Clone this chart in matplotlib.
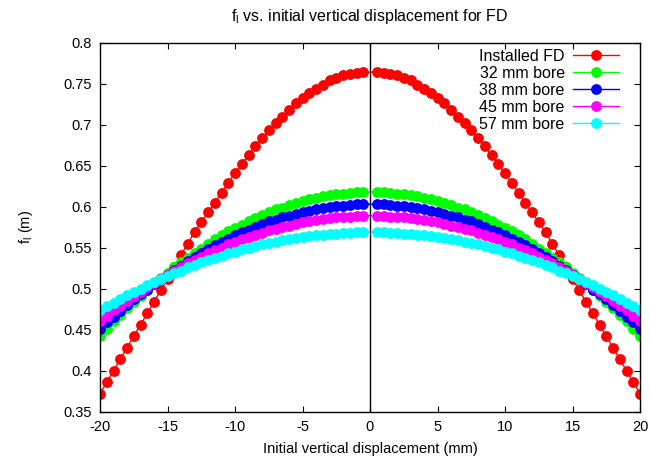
import matplotlib
matplotlib.use("Agg")
import matplotlib.pyplot as plt
import numpy as np

plt.rcParams['font.family'] = ['Liberation Sans', 'DejaVu Sans']

# displacement (mm), right half; curves are symmetric about 0
x_half = [0.5, 1.0, 1.5, 2.0, 2.5, 3.0, 3.5, 4.0, 4.5, 5.0,
          5.5, 6.0, 6.5, 7.0, 7.5, 8.0, 8.5, 9.0, 9.5, 10.0,
          10.5, 11.0, 11.5, 12.0, 12.5, 13.0, 13.5, 14.0, 14.5, 15.0,
          15.5, 16.0, 16.5, 17.0, 17.5, 18.0, 18.5, 19.0, 19.5, 20.0]

installed_fd = [0.764, 0.763, 0.762, 0.760, 0.757, 0.754, 0.749, 0.744, 0.739, 0.733,
                0.726, 0.718, 0.710, 0.702, 0.693, 0.684, 0.674, 0.663, 0.652, 0.641,
                0.629, 0.617, 0.605, 0.593, 0.581, 0.569, 0.555, 0.541, 0.527, 0.512,
                0.498, 0.484, 0.470, 0.456, 0.442, 0.428, 0.414, 0.400, 0.386, 0.372]
bore_32 = [0.618, 0.618, 0.617, 0.616, 0.615, 0.614, 0.613, 0.611, 0.609, 0.607,
           0.605, 0.602, 0.599, 0.597, 0.593, 0.590, 0.586, 0.582, 0.578, 0.574,
           0.570, 0.565, 0.560, 0.555, 0.549, 0.544, 0.538, 0.532, 0.526, 0.519,
           0.513, 0.506, 0.499, 0.491, 0.484, 0.476, 0.468, 0.460, 0.451, 0.442]
bore_38 = [0.603, 0.603, 0.602, 0.601, 0.601, 0.600, 0.598, 0.597, 0.595, 0.594,
           0.591, 0.589, 0.587, 0.584, 0.582, 0.579, 0.575, 0.572, 0.569, 0.565,
           0.561, 0.557, 0.553, 0.548, 0.544, 0.539, 0.534, 0.528, 0.523, 0.517,
           0.512, 0.506, 0.499, 0.493, 0.487, 0.480, 0.473, 0.466, 0.459, 0.451]
bore_45 = [0.589, 0.589, 0.588, 0.588, 0.587, 0.586, 0.585, 0.584, 0.582, 0.581,
           0.579, 0.577, 0.575, 0.573, 0.571, 0.568, 0.566, 0.563, 0.560, 0.557,
           0.554, 0.550, 0.547, 0.543, 0.539, 0.535, 0.531, 0.526, 0.522, 0.517,
           0.512, 0.507, 0.502, 0.496, 0.491, 0.485, 0.479, 0.474, 0.467, 0.461]
bore_57 = [0.569, 0.569, 0.568, 0.568, 0.567, 0.567, 0.566, 0.565, 0.564, 0.563,
           0.562, 0.560, 0.559, 0.557, 0.556, 0.554, 0.552, 0.550, 0.548, 0.545,
           0.543, 0.540, 0.538, 0.535, 0.532, 0.529, 0.526, 0.522, 0.519, 0.516,
           0.512, 0.508, 0.504, 0.500, 0.496, 0.492, 0.488, 0.483, 0.479, 0.474]

labels = ["Installed FD", "32 mm bore", "38 mm bore", "45 mm bore", "57 mm bore"]
colors = ["#ff0000", "#00ff00", "#0000ff", "#ff00ff", "#00ffff"]
series = [installed_fd, bore_32, bore_38, bore_45, bore_57]

x_ticks = [-20, -15, -10, -5, 0, 5, 10, 15, 20]
y_ticks = [0.35, 0.4, 0.45, 0.5, 0.55, 0.6, 0.65, 0.7, 0.75, 0.8]
y_ticklabels = ["0.35", "0.4", "0.45", "0.5", "0.55", "0.6", "0.65", "0.7", "0.75", "0.8"]

fig = plt.figure(figsize=(6.5, 4.65), dpi=100)
ax = fig.add_axes([100/650, 53.3/465, 540/650, 369/465])

xh = np.array(x_half)
x_full = np.concatenate([-xh[::-1], xh])
for vals, lab, col in zip(series, labels, colors):
    v = np.array(vals)
    y_full = np.concatenate([v[::-1], v])
    ax.plot(x_full, y_full, '-', color=col, lw=1, marker='o', markersize=7.8,
            markeredgewidth=0, label=lab)

ax.axvline(0, color='black', lw=1, zorder=5)

ax.set_xlim(-20, 20)
ax.set_ylim(0.35, 0.8)
ax.set_xticks(x_ticks)
ax.set_xticklabels([str(t) for t in x_ticks])
ax.set_yticks(y_ticks)
ax.set_yticklabels(y_ticklabels)
ax.tick_params(direction='in', length=4.5, width=0.8, top=True, right=True,
               labelsize=10.5, colors='black', pad=6)
for s in ax.spines.values():
    s.set_linewidth(1.0)

ax.set_xlabel("Initial vertical displacement (mm)", fontsize=10.5, labelpad=6)
ax.set_ylabel(r"f$_\mathregular{l}$ (m)", fontsize=10.5, labelpad=20)
fig.text(370/650, 1 - 17/465, r"f$_\mathregular{l}$ vs. initial vertical displacement for FD",
         ha='center', va='center', fontsize=11.5)

leg = ax.legend(loc='upper right', bbox_to_anchor=(619/650, 1 - 49/465),
                bbox_transform=fig.transFigure, frameon=False, markerfirst=False,
                fontsize=11.5, handlelength=2.9, handletextpad=0.5,
                labelspacing=0.12, borderaxespad=0, borderpad=0)
for t in leg.get_texts():
    t.set_ha('right')

fig.savefig("out.png", dpi=100)
